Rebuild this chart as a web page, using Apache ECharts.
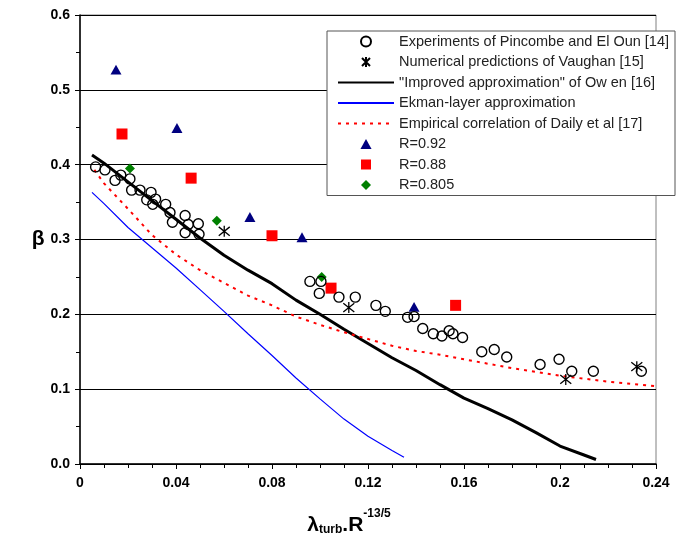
<!DOCTYPE html>
<html>
<head>
  <meta charset="utf-8" />
  <title>beta vs lambda</title>
  <style>
    html, body { margin: 0; padding: 0; background: #fff; }
    #main { width: 695px; height: 541px; }
  </style>
</head>
<body>
  <div id="main"></div>
  <script src="https://cdn.jsdelivr.net/npm/echarts@6/dist/echarts.min.js"></script>
  <script type="text/javascript">
    // data: [lambda_turb.R^-13/5, beta]
    var pincombe = [
      [0.0065, 0.397], [0.0104, 0.393], [0.0146, 0.379], [0.017, 0.386], [0.0208, 0.381],
      [0.0215, 0.366], [0.025, 0.366], [0.0278, 0.353], [0.0296, 0.363], [0.0315, 0.354],
      [0.0303, 0.347], [0.0357, 0.347], [0.0375, 0.336], [0.0385, 0.323], [0.0438, 0.332],
      [0.0451, 0.320], [0.0438, 0.309], [0.0493, 0.321], [0.0496, 0.307],
      [0.0958, 0.244], [0.1004, 0.244], [0.0997, 0.228], [0.1079, 0.223], [0.1147, 0.223],
      [0.1233, 0.212], [0.1272, 0.204], [0.1365, 0.196], [0.1392, 0.197], [0.1428, 0.181],
      [0.1472, 0.174], [0.1508, 0.171], [0.1538, 0.178], [0.1554, 0.174], [0.1594, 0.169],
      [0.1674, 0.150], [0.1726, 0.153], [0.1778, 0.143], [0.1917, 0.133], [0.1996, 0.140],
      [0.2049, 0.124], [0.2139, 0.124], [0.2339, 0.124]
    ];
    var vaughan = [[0.0601, 0.311], [0.112, 0.209], [0.2024, 0.113], [0.232, 0.130]];
    var owen = [
      [0.005, 0.413], [0.01, 0.402], [0.02, 0.377], [0.03, 0.352], [0.04, 0.327],
      [0.05, 0.302], [0.06, 0.279], [0.07, 0.259], [0.08, 0.241], [0.09, 0.219],
      [0.10, 0.200], [0.11, 0.180], [0.12, 0.161], [0.13, 0.142], [0.14, 0.125],
      [0.15, 0.106], [0.16, 0.088], [0.17, 0.074], [0.18, 0.059], [0.19, 0.042],
      [0.20, 0.024], [0.21, 0.012], [0.215, 0.006]
    ];
    var ekman = [
      [0.005, 0.363], [0.01, 0.348], [0.02, 0.316], [0.03, 0.289], [0.04, 0.262],
      [0.05, 0.233], [0.06, 0.204], [0.07, 0.174], [0.08, 0.145], [0.09, 0.115],
      [0.10, 0.087], [0.11, 0.060], [0.12, 0.037], [0.13, 0.018], [0.135, 0.009]
    ];
    var daily = [
      [0.006, 0.393], [0.01, 0.375], [0.02, 0.341], [0.03, 0.306], [0.04, 0.280],
      [0.05, 0.259], [0.06, 0.242], [0.07, 0.225], [0.08, 0.212], [0.09, 0.197],
      [0.10, 0.186], [0.11, 0.176], [0.12, 0.167], [0.13, 0.158], [0.14, 0.151],
      [0.15, 0.146], [0.16, 0.140], [0.17, 0.134], [0.18, 0.128], [0.19, 0.123],
      [0.20, 0.118], [0.21, 0.114], [0.22, 0.110], [0.23, 0.107], [0.24, 0.104]
    ];
    var r092 = [[0.015, 0.527], [0.0404, 0.449], [0.0708, 0.330], [0.0925, 0.303], [0.1392, 0.210]];
    var r088 = [[0.0175, 0.441], [0.0463, 0.382], [0.08, 0.305], [0.1046, 0.235], [0.1565, 0.212]];
    var r0805 = [[0.0208, 0.395], [0.057, 0.325], [0.1007, 0.250]];

    var names = [
      'Experiments of Pincombe and El Oun [14]',
      'Numerical predictions of Vaughan [15]',
      '"Improved approximation" of Ow en [16]',
      'Ekman-layer approximation',
      'Empirical correlation of Daily et al [17]',
      'R=0.92',
      'R=0.88',
      'R=0.805'
    ];

    var font = 'Liberation Sans, Arial, sans-serif';
    // path symbols keep their aspect in the legend, built-in ones get stretched
    var asterisk = 'path://M5,0L5,10M1,1L9,9M1,9L9,1';
    var triangle = 'path://M5,0L10,9L0,9Z';
    var square = 'path://M0,0L10,0L10,10L0,10Z';
    var diamond = 'path://M5,0L10,5L5,10L0,5Z';

    // line entries in the legend show only the line, no dot
    var legendData = names.map(function (n, i) {
      if (i >= 2 && i <= 4) return { name: n, itemStyle: { opacity: 0 } };
      return { name: n };
    });

    var myChart = echarts.init(document.getElementById('main'));
    myChart.setOption({
      animation: false,
      grid: {
        left: 80, right: 39, top: 15, bottom: 66,
        show: true, borderColor: '#808080', borderWidth: 1
      },
      legend: {
        orient: 'vertical',
        left: 327, top: 31,
        padding: [3, 6, 3, 10],
        backgroundColor: '#fff',
        borderColor: '#555',
        borderWidth: 1,
        borderRadius: 0,
        itemWidth: 56,
        itemHeight: 10,
        itemGap: 5.5,
        symbolKeepAspect: true,
        textStyle: { fontFamily: font, fontSize: 14.5, color: '#222' },
        data: legendData
      },
      xAxis: {
        type: 'value',
        min: 0, max: 0.24, interval: 0.04,
        name: '{a|λ}{s|turb}{a|.R}{p|-13/5}',
        nameLocation: 'middle',
        nameGap: 44,
        nameTextStyle: {
          padding: [0, 38, 0, 0],
          rich: {
            a: { fontFamily: font, fontSize: 21, fontWeight: 'bold', color: '#000', lineHeight: 28, verticalAlign: 'bottom' },
            s: { fontFamily: font, fontSize: 12, fontWeight: 'bold', color: '#000', lineHeight: 26, verticalAlign: 'bottom' },
            p: { fontFamily: font, fontSize: 12, fontWeight: 'bold', color: '#000', lineHeight: 26, verticalAlign: 'top' }
          }
        },
        axisLine: { lineStyle: { color: '#000', width: 1.5 } },
        axisTick: { show: true, length: 5, lineStyle: { color: '#000' } },
        minorTick: { show: true, splitNumber: 4, length: 4, lineStyle: { color: '#000' } },
        axisLabel: {
          margin: 12, color: '#000', fontFamily: font, fontSize: 14, fontWeight: 'bold',
          formatter: function (v) { return v === 0 ? '0' : String(+v.toFixed(2)); }
        },
        splitLine: { show: false }
      },
      yAxis: {
        type: 'value',
        min: 0, max: 0.6, interval: 0.1,
        name: 'β',
        nameLocation: 'middle',
        nameRotate: 0,
        nameGap: 34,
        nameTextStyle: { fontFamily: font, fontSize: 21, fontWeight: 'bold', color: '#000' },
        axisLine: { show: true, lineStyle: { color: '#000', width: 1.5 } },
        axisTick: { show: true, length: 5, lineStyle: { color: '#000' } },
        minorTick: { show: true, splitNumber: 2, length: 4, lineStyle: { color: '#000' } },
        axisLabel: {
          margin: 10, color: '#000', fontFamily: font, fontSize: 14, fontWeight: 'bold',
          formatter: function (v) { return v.toFixed(1); }
        },
        splitLine: { show: true, lineStyle: { color: '#000', width: 1 } }
      },
      series: [
        {
          name: names[0], type: 'scatter', data: pincombe, symbol: 'circle', symbolSize: 10, z: 5,
          itemStyle: { color: 'transparent', borderColor: '#000', borderWidth: 1.4, opacity: 1 }
        },
        {
          name: names[1], type: 'scatter', data: vaughan, symbol: asterisk, symbolSize: 11, z: 5,
          itemStyle: { color: 'transparent', borderColor: '#000', borderWidth: 1.3, opacity: 1 }
        },
        {
          name: names[2], type: 'line', data: owen, showSymbol: false, symbol: 'none', z: 3,
          lineStyle: { color: '#000', width: 3 }, itemStyle: { color: '#000' }
        },
        {
          name: names[3], type: 'line', data: ekman, showSymbol: false, symbol: 'none', z: 3,
          lineStyle: { color: '#0000ff', width: 1.2 }, itemStyle: { color: '#0000ff' }
        },
        {
          name: names[4], type: 'line', data: daily, showSymbol: false, symbol: 'none', z: 3,
          lineStyle: { color: '#ff0000', width: 2, type: [3, 5] }, itemStyle: { color: '#ff0000' }
        },
        {
          name: names[5], type: 'scatter', data: r092, symbol: triangle, symbolSize: 11, z: 4,
          symbolKeepAspect: true, itemStyle: { color: '#000080', opacity: 1 }
        },
        {
          name: names[6], type: 'scatter', data: r088, symbol: square, symbolSize: 11, z: 4,
          symbolKeepAspect: true, itemStyle: { color: '#ff0000', opacity: 1 }
        },
        {
          name: names[7], type: 'scatter', data: r0805, symbol: diamond, symbolSize: 10, z: 4,
          symbolKeepAspect: true, itemStyle: { color: '#008000', opacity: 1 }
        }
      ]
    });
  </script>
</body>
</html>
